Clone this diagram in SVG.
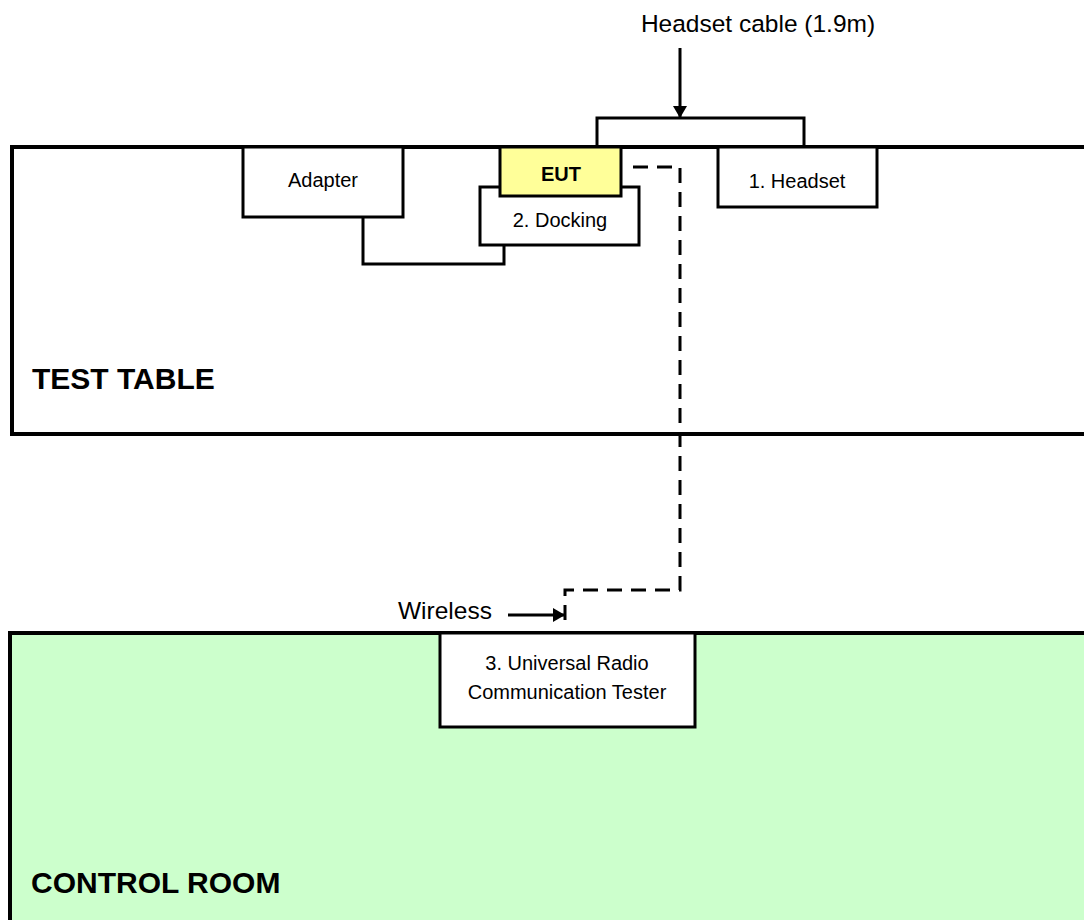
<svg xmlns="http://www.w3.org/2000/svg" width="1084" height="920" viewBox="0 0 1084 920">
<defs>
<style>
.area{stroke:#000;stroke-width:4}
.box{fill:#fff;stroke:#000;stroke-width:3}
.wire{fill:none;stroke:#000;stroke-width:3}
.dash{fill:none;stroke:#000;stroke-width:3;stroke-dasharray:15 9}
text{font-family:"Liberation Sans",Arial,sans-serif;fill:#000}
.lbl{font-size:20px;text-anchor:middle}
.big{font-size:24.5px}
.title{font-size:30px;font-weight:bold}
</style>
<marker id="ah" viewBox="0 0 12 14" refX="12" refY="7" markerWidth="12" markerHeight="14" markerUnits="userSpaceOnUse" orient="auto">
<path d="M0,0 L12,7 L0,14 Z" fill="#000"/>
</marker>
</defs>
<rect width="1084" height="920" fill="#fff"/>
<g id="test-table">
<rect class="area" x="12" y="147" width="1090" height="287" fill="#fff"/>
<text class="title" x="32" y="389">TEST TABLE</text>
</g>
<g id="control-room">
<rect class="area" x="10" y="633" width="1092" height="300" fill="#CCFFCC"/>
<text class="title" x="31" y="893">CONTROL ROOM</text>
</g>
<g id="connectors">
<path class="wire" d="M363,217 V264 H504 V245"/>
<path class="wire" d="M597,147 V118 H804 V147"/>
<line class="wire" x1="680" y1="48" x2="680" y2="118" marker-end="url(#ah)"/>
<text class="big" x="758" y="32" text-anchor="middle">Headset cable (1.9m)</text>
<path class="dash" d="M633,167 H680 V590 H565 V626"/>
<line class="wire" x1="508" y1="615" x2="565" y2="615" marker-end="url(#ah)"/>
<text class="big" x="398" y="619">Wireless</text>
</g>
<g id="adapter">
<rect class="box" x="243" y="147" width="160" height="70"/>
<text class="lbl" x="323" y="187">Adapter</text>
</g>
<g id="docking">
<rect class="box" x="480" y="187" width="159" height="58"/>
<text class="lbl" x="560" y="227">2. Docking</text>
</g>
<g id="eut">
<rect class="box" x="500" y="147" width="121" height="49" style="fill:#FFFF99"/>
<text class="lbl" x="561" y="181" font-weight="bold">EUT</text>
</g>
<g id="headset">
<rect class="box" x="718" y="147" width="159" height="60"/>
<text class="lbl" x="797" y="188">1. Headset</text>
</g>
<g id="tester">
<rect class="box" x="440" y="633" width="255" height="94"/>
<text class="lbl" x="567" y="670">3. Universal Radio</text>
<text class="lbl" x="567" y="699">Communication Tester</text>
</g>
</svg>
